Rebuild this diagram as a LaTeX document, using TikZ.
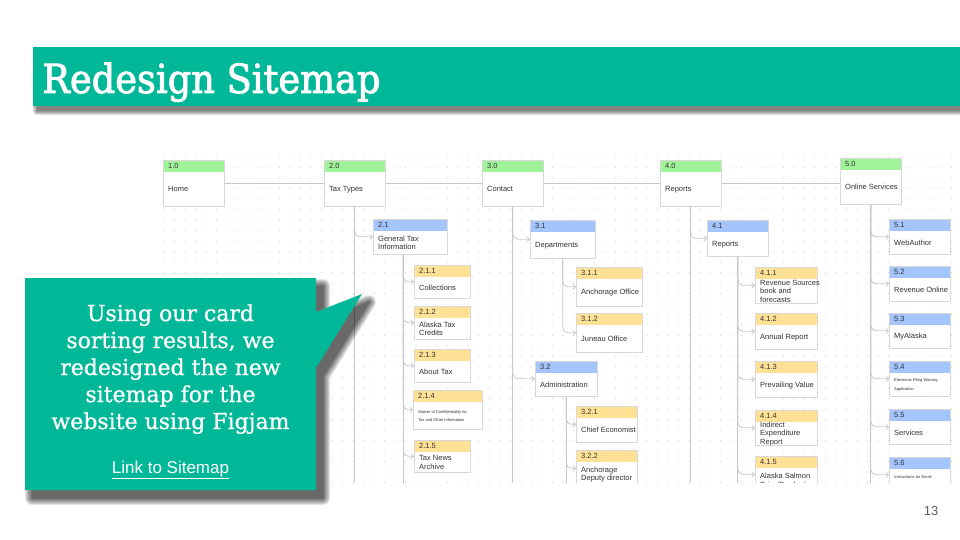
\documentclass[tikz,border=0pt]{standalone}
\usepackage{fontspec}
\setmainfont{Liberation Sans}
\newfontfamily\headserif[FakeStretch=0.92,FakeBold=2.2]{DejaVu Serif}
\newfontfamily\bodyserif[FakeBold=0.8]{DejaVu Serif}
\usetikzlibrary{arrows.meta,calc}

\definecolor{slideteal}{RGB}{0,184,152}
\definecolor{hdrgreen}{RGB}{160,243,152}
\definecolor{hdrblue}{RGB}{164,196,252}
\definecolor{hdryellow}{RGB}{255,225,150}
\definecolor{cardline}{RGB}{216,216,216}
\definecolor{linkgrey}{RGB}{200,200,200}
\definecolor{dotgrey}{RGB}{212,212,212}
\definecolor{cardink}{RGB}{50,50,50}
\definecolor{pageink}{RGB}{95,95,95}

% one sitemap card: name, x, top y, width, height, header colour, number, label
\newcommand{\sitecard}[8]{%
  \node[sitecard, hdr=#6, minimum width=#4, minimum height=#5] (#1) at (#2,#3) {};
  \node[cardnum] (#1-n) at ([xshift=5pt,yshift=-6pt]#1.north west) {#7};
  \node[cardlabel] (#1-t) at ([xshift=5pt,yshift=-6pt]#1.west) {#8};
}

% soft drop shadow: shift, number of growth steps, opacity per layer, closed path
\newcommand{\softshadow}[4]{%
  \foreach \g in {0,...,#2}{%
    \pgfmathsetmacro\shadowlw{2*\g}%
    \begin{scope}[shift={#1}, transparency group, opacity=#3]
      \filldraw[black, line width=\shadowlw pt, line join=round] #4;
    \end{scope}}%
}

\tikzset{
  sitecard/.style={rectangle, draw=cardline, line width=0.6pt, fill=white,
    inner sep=0pt, anchor=north west},
  hdr/.style={path picture={\fill[#1] (path picture bounding box.north west)
    rectangle ([yshift=-12pt]path picture bounding box.north east);}},
  cardnum/.style={anchor=west, inner sep=0pt, text=cardink,
    font=\fontsize{7.5}{8.5}\selectfont},
  cardlabel/.style={anchor=west, inner sep=0pt, text=cardink, align=left,
    font=\fontsize{7.5}{8.4}\selectfont},
  link/.style={draw=linkgrey, line width=0.8pt, rounded corners=5pt,
    -{Straight Barb[length=2.5pt,width=5pt]}},
  trunk/.style={draw=linkgrey, line width=0.8pt},
}
\newcommand{\tinylabel}{\fontsize{4}{5}\selectfont}

\begin{document}
\begin{tikzpicture}[x=1pt,y=-1pt]
\fill[white] (0,0) rectangle (960,540);
\useasboundingbox (0,0) rectangle (960,540);

% title bar
\softshadow{(4,5)}{4}{0.12}{(33,47) rectangle (975,106)}
\fill[slideteal] (33,47) rectangle (960,106);
\node[anchor=base west, inner sep=0pt, text=white,
  font=\headserif\fontsize{40}{48}\selectfont] (title) at (42,93) {Redesign Sitemap};

% sitemap board
\begin{scope}
\clip (160,153) rectangle (960,482);
\foreach \i in {0,...,75}
  \foreach \j in {0,...,31}
    \fill[dotgrey] (164+\i*10.5,157+\j*10.5) circle (0.6);
\coordinate (edge) at (0,500);

% top level
\sitecard{n10}{163}{160}{61}{46}{hdrgreen}{1.0}{Home}
\sitecard{n20}{324}{160}{61}{46}{hdrgreen}{2.0}{Tax Types}
\sitecard{n30}{482}{160}{61}{46}{hdrgreen}{3.0}{Contact}
\sitecard{n40}{660}{160}{61}{46}{hdrgreen}{4.0}{Reports}
\sitecard{n50}{840}{158}{61}{46}{hdrgreen}{5.0}{Online Services}

% second level
\sitecard{n21}{373}{219}{74}{35}{hdrblue}{2.1}{General Tax\\Information}
\sitecard{n31}{530}{220}{65}{38}{hdrblue}{3.1}{Departments}
\sitecard{n32}{535}{361}{62}{35}{hdrblue}{3.2}{Administration}
\sitecard{n41}{707}{220}{61}{36}{hdrblue}{4.1}{Reports}
\sitecard{n51}{889}{219}{61}{35}{hdrblue}{5.1}{WebAuthor}
\sitecard{n52}{889}{266}{61}{35}{hdrblue}{5.2}{Revenue Online}
\sitecard{n53}{889}{313}{61}{35}{hdrblue}{5.3}{MyAlaska}
\sitecard{n54}{889}{361}{61}{35}{hdrblue}{5.4}{\tinylabel Electronic Filing Waiving\\\tinylabel Application}
\sitecard{n55}{889}{409}{61}{35}{hdrblue}{5.5}{Services}
\sitecard{n56}{889}{457}{61}{35}{hdrblue}{5.6}{\tinylabel Instructions for Email\\\tinylabel ~}

% third level
\sitecard{n211}{414}{265}{56}{33}{hdryellow}{2.1.1}{Collections}
\sitecard{n212}{414}{306}{56}{33}{hdryellow}{2.1.2}{Alaska Tax\\Credits}
\sitecard{n213}{414}{349}{56}{33}{hdryellow}{2.1.3}{About Tax}
\sitecard{n214}{413}{390}{69}{39}{hdryellow}{2.1.4}{\tinylabel Waiver of Confidentiality for\\\tinylabel Tax and Other Information}
\sitecard{n215}{414}{440}{56}{32}{hdryellow}{2.1.5}{Tax News\\Archive}
\sitecard{n311}{576}{267}{66}{39}{hdryellow}{3.1.1}{Anchorage Office}
\sitecard{n312}{576}{313}{66}{39}{hdryellow}{3.1.2}{Juneau Office}
\sitecard{n321}{576}{406}{61}{36}{hdryellow}{3.2.1}{Chief Economist}
\sitecard{n322}{576}{450}{61}{36}{hdryellow}{3.2.2}{Anchorage\\Deputy director}
\sitecard{n411}{755}{267}{62}{36}{hdryellow}{4.1.1}{Revenue Sources\\book and\\forecasts}
\sitecard{n412}{755}{313}{62}{36}{hdryellow}{4.1.2}{Annual Report}
\sitecard{n413}{755}{361}{62}{36}{hdryellow}{4.1.3}{Prevailing Value}
\sitecard{n414}{755}{410}{62}{35}{hdryellow}{4.1.4}{Indirect\\Expenditure\\Report}
\sitecard{n415}{755}{456}{62}{36}{hdryellow}{4.1.5}{Alaska Salmon\\Price/Production}

% top-level chain
\draw[trunk] (n10.east) -- (n20.west);
\draw[trunk] (n20.east) -- (n30.west);
\draw[trunk] (n30.east) -- (n40.west);
\draw[trunk] (n40.east) -- (n40.east -| n50.west);

% trunks running on past the bottom of the board
\coordinate (t21) at ([xshift=-7pt]n21.south);
\foreach \p in {n20,n30,n32,n40,n41,n50}
  \draw[trunk] (\p.south) -- (\p.south |- edge);
\draw[trunk] (t21) -- (t21 |- edge);

% branches
\draw[link] (n20.south) |- (n21.west);
\foreach \c in {n211,n212,n213,n214,n215}
  \draw[link] (t21) |- (\c.west);
\draw[link] (n30.south) |- (n31.west);
\draw[link] (n30.south) |- (n32.west);
\foreach \c in {n311,n312}
  \draw[link] (n31.south) |- (\c.west);
\foreach \c in {n321,n322}
  \draw[link] (n32.south) |- (\c.west);
\draw[link] (n40.south) |- (n41.west);
\foreach \c in {n411,n412,n413,n414,n415}
  \draw[link] (n41.south) |- (\c.west);
\foreach \c in {n51,n52,n53,n54,n55,n56}
  \draw[link] (n50.south) |- (\c.west);
\end{scope}

% callout
\softshadow{(7,8)}{7}{0.1}{(25,278) -- (316,278) -- (316,312) -- (362,294) -- (316,368) -- (316,490) -- (25,490) -- cycle}
\fill[slideteal]
  (25,278) -- (316,278) -- (316,312) -- (362,294) -- (316,368)
  -- (316,490) -- (25,490) -- cycle;
\node[anchor=base, inner sep=0pt, align=center, text=white,
  font=\bodyserif\fontsize{22}{27}\selectfont] (blurb) at (170.5,429)
  {Using our card\\sorting results, we\\redesigned the new\\sitemap for the\\website using Figjam};
\node[anchor=base, inner sep=0pt, text=white, font=\fontsize{17}{20}\selectfont]
  (sitelink) at (170.5,473) {\underline{Link to Sitemap}};

% page number
\node[text=pageink, inner sep=0pt, font=\fontsize{13}{15}\selectfont] (pagenum) at (931,511) {13};
\end{tikzpicture}
\end{document}
